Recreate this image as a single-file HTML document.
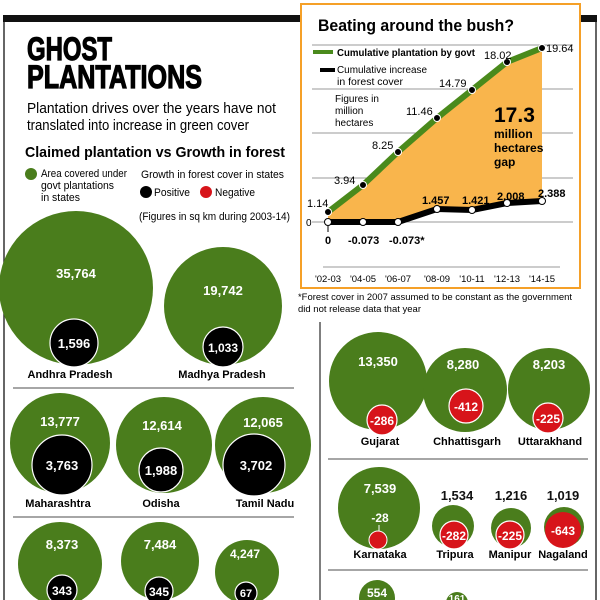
<!DOCTYPE html>
<html><head><meta charset="utf-8"><style>
html,body{margin:0;padding:0;background:#fff}
svg{display:block}
text{font-family:"Liberation Sans",sans-serif}
</style></head><body>
<svg width="600" height="600" viewBox="0 0 600 600" xmlns="http://www.w3.org/2000/svg">
<rect width="600" height="600" fill="#fff"/>
<rect x="3" y="15" width="594" height="7" fill="#111"/>
<line x1="4" y1="22" x2="4" y2="600" stroke="#333" stroke-width="1.5"/>
<line x1="596" y1="22" x2="596" y2="600" stroke="#333" stroke-width="1.5"/>
<line x1="320" y1="322" x2="320" y2="600" stroke="#555" stroke-width="1.5"/>

<text x="27" y="60" font-size="32" font-weight="bold" stroke="#000" stroke-width="1.2" textLength="85" lengthAdjust="spacingAndGlyphs">GHOST</text>
<text x="27" y="88" font-size="32" font-weight="bold" stroke="#000" stroke-width="1.2" textLength="175" lengthAdjust="spacingAndGlyphs">PLANTATIONS</text>
<text x="27" y="113" font-size="15" textLength="249" lengthAdjust="spacingAndGlyphs">Plantation drives over the years have not</text>
<text x="27" y="130" font-size="15" textLength="222" lengthAdjust="spacingAndGlyphs">translated into increase in green cover</text>
<text x="25" y="157" font-size="15" font-weight="bold" textLength="260" lengthAdjust="spacingAndGlyphs">Claimed plantation vs Growth in forest</text>
<circle cx="31" cy="174" r="6" fill="#4a7d1c"/>
<text x="41" y="177" font-size="11" textLength="86" lengthAdjust="spacingAndGlyphs">Area covered under</text>
<text x="41" y="189" font-size="11" textLength="73" lengthAdjust="spacingAndGlyphs">govt plantations</text>
<text x="41" y="201" font-size="11" textLength="39" lengthAdjust="spacingAndGlyphs">in states</text>
<text x="141" y="178" font-size="11" textLength="143" lengthAdjust="spacingAndGlyphs">Growth in forest cover in states</text>
<circle cx="146" cy="192" r="6" fill="#000"/>
<text x="154" y="196" font-size="11" textLength="36" lengthAdjust="spacingAndGlyphs">Positive</text>
<circle cx="206" cy="192" r="6" fill="#d7141a"/>
<text x="215" y="196" font-size="11" textLength="40" lengthAdjust="spacingAndGlyphs">Negative</text>
<text x="139" y="220" font-size="11" textLength="151" lengthAdjust="spacingAndGlyphs">(Figures in sq km during 2003-14)</text>

<g font-weight="bold" text-anchor="middle">
<circle cx="76" cy="288" r="77" fill="#4a7d1c"/>
<text x="76" y="278" font-size="13" fill="#fff">35,764</text>
<circle cx="74" cy="343" r="24" fill="#000" stroke="#fff" stroke-width="1.2"/>
<text x="74" y="348" font-size="13" fill="#fff">1,596</text>
<circle cx="223" cy="306" r="59" fill="#4a7d1c"/>
<text x="223" y="295" font-size="13" fill="#fff">19,742</text>
<circle cx="223" cy="347" r="20" fill="#000" stroke="#fff" stroke-width="1.2"/>
<text x="223" y="352" font-size="12" fill="#fff">1,033</text>
</g>
<g font-size="11" text-anchor="middle" font-weight="bold">
<text x="70" y="378">Andhra Pradesh</text>
<text x="222" y="378">Madhya Pradesh</text>
</g>
<line x1="13" y1="388" x2="294" y2="388" stroke="#888" stroke-width="1.5"/>

<g font-weight="bold" text-anchor="middle">
<circle cx="60" cy="443" r="50" fill="#4a7d1c"/>
<text x="60" y="426" font-size="13" fill="#fff">13,777</text>
<circle cx="62" cy="465" r="30" fill="#000" stroke="#fff" stroke-width="1.2"/>
<text x="62" y="470" font-size="13" fill="#fff">3,763</text>
<circle cx="164" cy="445" r="48" fill="#4a7d1c"/>
<text x="162" y="430" font-size="13" fill="#fff">12,614</text>
<circle cx="161" cy="470" r="22" fill="#000" stroke="#fff" stroke-width="1.2"/>
<text x="161" y="475" font-size="13" fill="#fff">1,988</text>
<circle cx="263" cy="445" r="48" fill="#4a7d1c"/>
<text x="263" y="427" font-size="13" fill="#fff">12,065</text>
<circle cx="254" cy="465" r="31" fill="#000" stroke="#fff" stroke-width="1.2"/>
<text x="256" y="470" font-size="13" fill="#fff">3,702</text>
</g>
<g font-size="11" text-anchor="middle" font-weight="bold">
<text x="58" y="507">Maharashtra</text>
<text x="161" y="507">Odisha</text>
<text x="265" y="507">Tamil Nadu</text>
</g>
<line x1="13" y1="517" x2="294" y2="517" stroke="#888" stroke-width="1.5"/>

<g font-weight="bold" text-anchor="middle">
<circle cx="60" cy="564" r="42" fill="#4a7d1c"/>
<text x="62" y="549" font-size="13" fill="#fff">8,373</text>
<circle cx="62" cy="590" r="15" fill="#000" stroke="#fff" stroke-width="1.2"/>
<text x="62" y="595" font-size="12" fill="#fff">343</text>
<circle cx="160" cy="561" r="39" fill="#4a7d1c"/>
<text x="160" y="549" font-size="13" fill="#fff">7,484</text>
<circle cx="159" cy="591" r="14" fill="#000" stroke="#fff" stroke-width="1.2"/>
<text x="159" y="596" font-size="12" fill="#fff">345</text>
<circle cx="247" cy="572" r="32" fill="#4a7d1c"/>
<text x="245" y="558" font-size="12" fill="#fff">4,247</text>
<circle cx="246" cy="593" r="11" fill="#000" stroke="#fff" stroke-width="1.2"/>
<text x="246" y="597" font-size="11" fill="#fff">67</text>

<circle cx="378" cy="381" r="49" fill="#4a7d1c"/>
<text x="378" y="366" font-size="13" fill="#fff">13,350</text>
<circle cx="382" cy="420" r="15" fill="#d7141a" stroke="#fff" stroke-width="1.2"/>
<text x="382" y="425" font-size="12" fill="#fff">-286</text>
<circle cx="465" cy="390" r="42" fill="#4a7d1c"/>
<text x="463" y="369" font-size="13" fill="#fff">8,280</text>
<circle cx="466" cy="406" r="17" fill="#d7141a" stroke="#fff" stroke-width="1.2"/>
<text x="466" y="411" font-size="12" fill="#fff">-412</text>
<circle cx="549" cy="389" r="41" fill="#4a7d1c"/>
<text x="549" y="369" font-size="13" fill="#fff">8,203</text>
<circle cx="548" cy="418" r="15" fill="#d7141a" stroke="#fff" stroke-width="1.2"/>
<text x="548" y="423" font-size="12" fill="#fff">-225</text>
</g>
<g font-size="11" text-anchor="middle" font-weight="bold">
<text x="380" y="445">Gujarat</text>
<text x="467" y="445">Chhattisgarh</text>
<text x="550" y="445">Uttarakhand</text>
</g>
<line x1="328" y1="459" x2="588" y2="459" stroke="#888" stroke-width="1.5"/>

<g font-weight="bold" text-anchor="middle">
<circle cx="379" cy="508" r="41" fill="#4a7d1c"/>
<text x="380" y="493" font-size="13" fill="#fff">7,539</text>
<text x="380" y="522" font-size="12" fill="#fff">-28</text>
<line x1="379" y1="525" x2="379" y2="532" stroke="#fff" stroke-width="1"/>
<circle cx="378" cy="540" r="9" fill="#d7141a" stroke="#fff" stroke-width="1"/>
<text x="457" y="500" font-size="13" fill="#111">1,534</text>
<circle cx="453" cy="526" r="21" fill="#4a7d1c"/>
<circle cx="454" cy="535" r="14" fill="#d7141a" stroke="#fff" stroke-width="1.2"/>
<text x="454" y="540" font-size="12" fill="#fff">-282</text>
<text x="511" y="500" font-size="13" fill="#111">1,216</text>
<circle cx="511" cy="528" r="20" fill="#4a7d1c"/>
<circle cx="510" cy="535" r="14" fill="#d7141a" stroke="#fff" stroke-width="1.2"/>
<text x="510" y="540" font-size="12" fill="#fff">-225</text>
<text x="563" y="500" font-size="13" fill="#111">1,019</text>
<circle cx="564" cy="527" r="20" fill="#4a7d1c"/>
<circle cx="563" cy="530" r="18" fill="#d7141a"/>
<text x="563" y="535" font-size="12" fill="#fff">-643</text>
</g>
<g font-size="11" text-anchor="middle" font-weight="bold">
<text x="380" y="558">Karnataka</text>
<text x="455" y="558">Tripura</text>
<text x="510" y="558">Manipur</text>
<text x="563" y="558">Nagaland</text>
</g>
<line x1="328" y1="570" x2="588" y2="570" stroke="#888" stroke-width="1.5"/>
<g font-weight="bold" text-anchor="middle">
<circle cx="377" cy="598" r="18" fill="#4a7d1c"/>
<text x="377" y="597" font-size="12" fill="#fff">554</text>
<circle cx="457" cy="603" r="11" fill="#4a7d1c"/>
<text x="457" y="602" font-size="10" fill="#fff">161</text>
</g>

<rect x="301" y="4" width="279" height="284" fill="#fff" stroke="#f5a028" stroke-width="2"/>
<text x="318" y="31" font-size="17" font-weight="bold" textLength="196" lengthAdjust="spacingAndGlyphs">Beating around the bush?</text>
<g stroke="#999" stroke-width="1">
<line x1="312" y1="45" x2="573" y2="45"/>
<line x1="312" y1="89" x2="573" y2="89"/>
<line x1="312" y1="133" x2="573" y2="133"/>
<line x1="312" y1="178" x2="573" y2="178"/>
<line x1="312" y1="222" x2="573" y2="222"/>
<line x1="323" y1="267" x2="560" y2="267"/>
</g>
<path d="M328,212 L363,185 L398,152 L437,118 L472,90 L507,62 L542,48 L542,201 L507,203 L472,210 L437,209 L398,222 L363,222 L328,222 Z" fill="#f9b54c"/>
<polyline points="328,212 363,185 398,152 437,118 472,90 507,62 542,48" fill="none" stroke="#4a8a1c" stroke-width="6" stroke-linejoin="round"/>
<polyline points="328,222 363,222 398,222 437,209 472,210 507,203 542,201" fill="none" stroke="#000" stroke-width="6" stroke-linejoin="round"/>
<g fill="#000" stroke="#fff" stroke-width="1">
<circle cx="328" cy="212" r="3.5"/><circle cx="363" cy="185" r="3.5"/><circle cx="398" cy="152" r="3.5"/><circle cx="437" cy="118" r="3.5"/><circle cx="472" cy="90" r="3.5"/><circle cx="507" cy="62" r="3.5"/><circle cx="542" cy="48" r="3.5"/>
</g>
<g fill="#fff" stroke="#000" stroke-width="1">
<circle cx="328" cy="222" r="3.5"/><circle cx="363" cy="222" r="3.5"/><circle cx="398" cy="222" r="3.5"/><circle cx="437" cy="209" r="3.5"/><circle cx="472" cy="210" r="3.5"/><circle cx="507" cy="203" r="3.5"/><circle cx="542" cy="201" r="3.5"/>
</g>
<line x1="328" y1="226" x2="328" y2="232" stroke="#000"/>
<line x1="313" y1="52" x2="333" y2="52" stroke="#4a8a1c" stroke-width="4"/>
<text x="337" y="56" font-size="10" font-weight="bold" textLength="138" lengthAdjust="spacingAndGlyphs">Cumulative plantation by govt</text>
<line x1="320" y1="70" x2="335" y2="70" stroke="#000" stroke-width="4"/>
<text x="337" y="73" font-size="10" textLength="90" lengthAdjust="spacingAndGlyphs">Cumulative increase</text>
<text x="337" y="85" font-size="10" textLength="66" lengthAdjust="spacingAndGlyphs">in forest cover</text>
<text x="335" y="102" font-size="10">Figures in</text>
<text x="335" y="114" font-size="10">million</text>
<text x="335" y="126" font-size="10">hectares</text>
<text x="494" y="122" font-size="21" font-weight="bold">17.3</text>
<g font-size="12" font-weight="bold">
<text x="494" y="138">million</text>
<text x="494" y="152">hectares</text>
<text x="494" y="166">gap</text>
</g>
<g font-size="11">
<text x="307" y="207">1.14</text>
<text x="334" y="184">3.94</text>
<text x="372" y="149">8.25</text>
<text x="406" y="115">11.46</text>
<text x="439" y="87">14.79</text>
<text x="484" y="59">18.02</text>
<text x="546" y="52">19.64</text>
<text x="306" y="226" font-size="10">0</text>
</g>
<g font-size="11" font-weight="bold">
<text x="325" y="244">0</text>
<text x="348" y="244">-0.073</text>
<text x="389" y="244">-0.073*</text>
<text x="422" y="204">1.457</text>
<text x="462" y="204">1.421</text>
<text x="497" y="200">2.008</text>
<text x="538" y="197">2.388</text>
</g>
<g font-size="9.5" text-anchor="middle">
<text x="328" y="282">'02-03</text><text x="363" y="282">'04-05</text><text x="398" y="282">'06-07</text><text x="437" y="282">'08-09</text><text x="472" y="282">'10-11</text><text x="507" y="282">'12-13</text><text x="542" y="282">'14-15</text>
</g>
<text x="298" y="300" font-size="9.5" textLength="274" lengthAdjust="spacingAndGlyphs">*Forest cover in 2007 assumed to be constant as the government</text>
<text x="298" y="312" font-size="9.5" textLength="123" lengthAdjust="spacingAndGlyphs">did not release data that year</text>
</svg>
</body></html>
